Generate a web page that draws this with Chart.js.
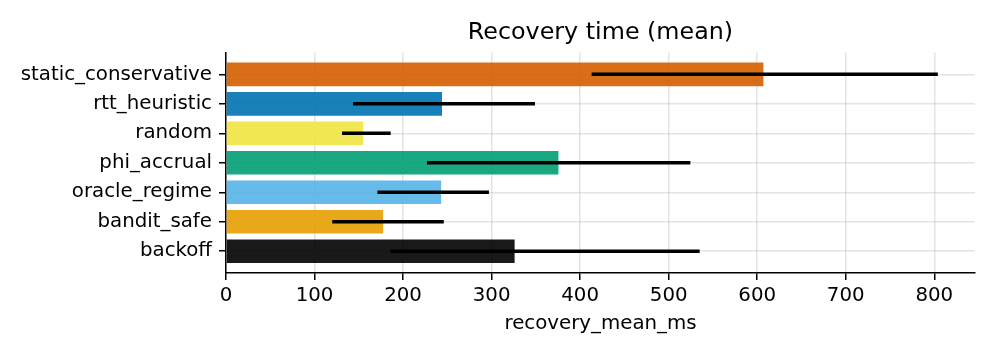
<!DOCTYPE html>
<html>
<head>
<meta charset="utf-8">
<script src="https://cdn.jsdelivr.net/npm/chart.js@4"></script>
<style>
  html, body { margin: 0; padding: 0; background: #fff; }
  #wrap { width: 996px; height: 356px; }
</style>
</head>
<body>
<div id="wrap"><canvas id="chart" width="996" height="356"></canvas></div>
<script>
// categories, top to bottom
const categories = ['static_conservative', 'rtt_heuristic', 'random', 'phi_accrual', 'oracle_regime', 'bandit_safe', 'backoff'];
const meanValues = [607, 244, 155, 375.5, 243, 177.5, 326];
const errLow = [413, 143.5, 131, 227, 171, 120, 186];
const errHigh = [804, 349, 186, 524.5, 297, 246, 535];
const xTickValues = [0, 100, 200, 300, 400, 500, 600, 700, 800];

const barColors = [
  'rgba(213, 94, 0, 0.9)',
  'rgba(0, 114, 178, 0.9)',
  'rgba(240, 228, 66, 0.9)',
  'rgba(0, 158, 115, 0.9)',
  'rgba(86, 180, 233, 0.9)',
  'rgba(230, 159, 0, 0.9)',
  'rgba(0, 0, 0, 0.9)',
];

const font = 'DejaVu Sans';
const gridColor = 'rgba(176, 176, 176, 0.35)';

const errorBars = {
  id: 'errorBars',
  afterDatasetsDraw(chart) {
    const { ctx, scales: { x, y } } = chart;
    ctx.save();
    ctx.strokeStyle = '#000';
    ctx.lineWidth = 3.5;
    ctx.lineCap = 'butt';
    categories.forEach((c, i) => {
      const py = y.getPixelForValue(i);
      ctx.beginPath();
      ctx.moveTo(x.getPixelForValue(errLow[i]), py);
      ctx.lineTo(x.getPixelForValue(errHigh[i]), py);
      ctx.stroke();
    });
    ctx.restore();
  },
};

const chart = new Chart(document.getElementById('chart'), {
  type: 'bar',
  data: {
    datasets: [{
      data: meanValues.map((v, i) => ({ x: v, y: i })),
      backgroundColor: barColors,
      borderWidth: 0,
      categoryPercentage: 1,
      barPercentage: 0.8,
    }],
  },
  options: {
    indexAxis: 'y',
    responsive: false,
    animation: false,
    devicePixelRatio: 1,
    layout: { padding: { left: 0, right: 21, top: 0, bottom: 20 } },
    plugins: {
      legend: { display: false },
      tooltip: { enabled: false },
      title: {
        display: true,
        fullSize: false,
        text: 'Recovery time (mean)',
        color: '#000',
        font: { family: font, size: 23.8, weight: 'normal' },
        padding: { top: 19, bottom: 5 },
      },
    },
    scales: {
      x: {
        type: 'linear',
        min: 0,
        max: 846,
        afterBuildTicks: (axis) => {
          axis.ticks = xTickValues.map((v) => ({ value: v }));
        },
        afterFit: (scale) => { scale.height = 63; },
        ticks: {
          color: '#000',
          font: { family: font, size: 19.8 },
          padding: 4,
          maxRotation: 0,
        },
        grid: {
          color: gridColor,
          lineWidth: 1.5,
          tickColor: '#000',
          tickLength: 7,
          tickWidth: 1.5,
        },
        border: { display: true, color: '#000', width: 1.5 },
        title: {
          display: true,
          text: 'recovery_mean_ms',
          color: '#000',
          font: { family: font, size: 19.8 },
          padding: { top: 4, bottom: 0 },
        },
      },
      y: {
        type: 'linear',
        min: -0.74,
        max: 6.74,
        bounds: 'data',
        offset: false,
        reverse: true,
        afterBuildTicks: (axis) => {
          axis.ticks = categories.map((c, i) => ({ value: i }));
        },
        afterFit: (scale) => { scale.width = 226; },
        ticks: {
          color: '#000',
          font: { family: font, size: 19.8 },
          padding: 7,
          callback: (value) => categories[value],
        },
        grid: {
          offset: false,
          color: gridColor,
          lineWidth: 1.5,
          tickColor: '#000',
          tickLength: 7,
          tickWidth: 1.5,
        },
        border: { display: true, color: '#000', width: 1.5 },
      },
    },
  },
  plugins: [errorBars],
});
</script>
</body>
</html>
